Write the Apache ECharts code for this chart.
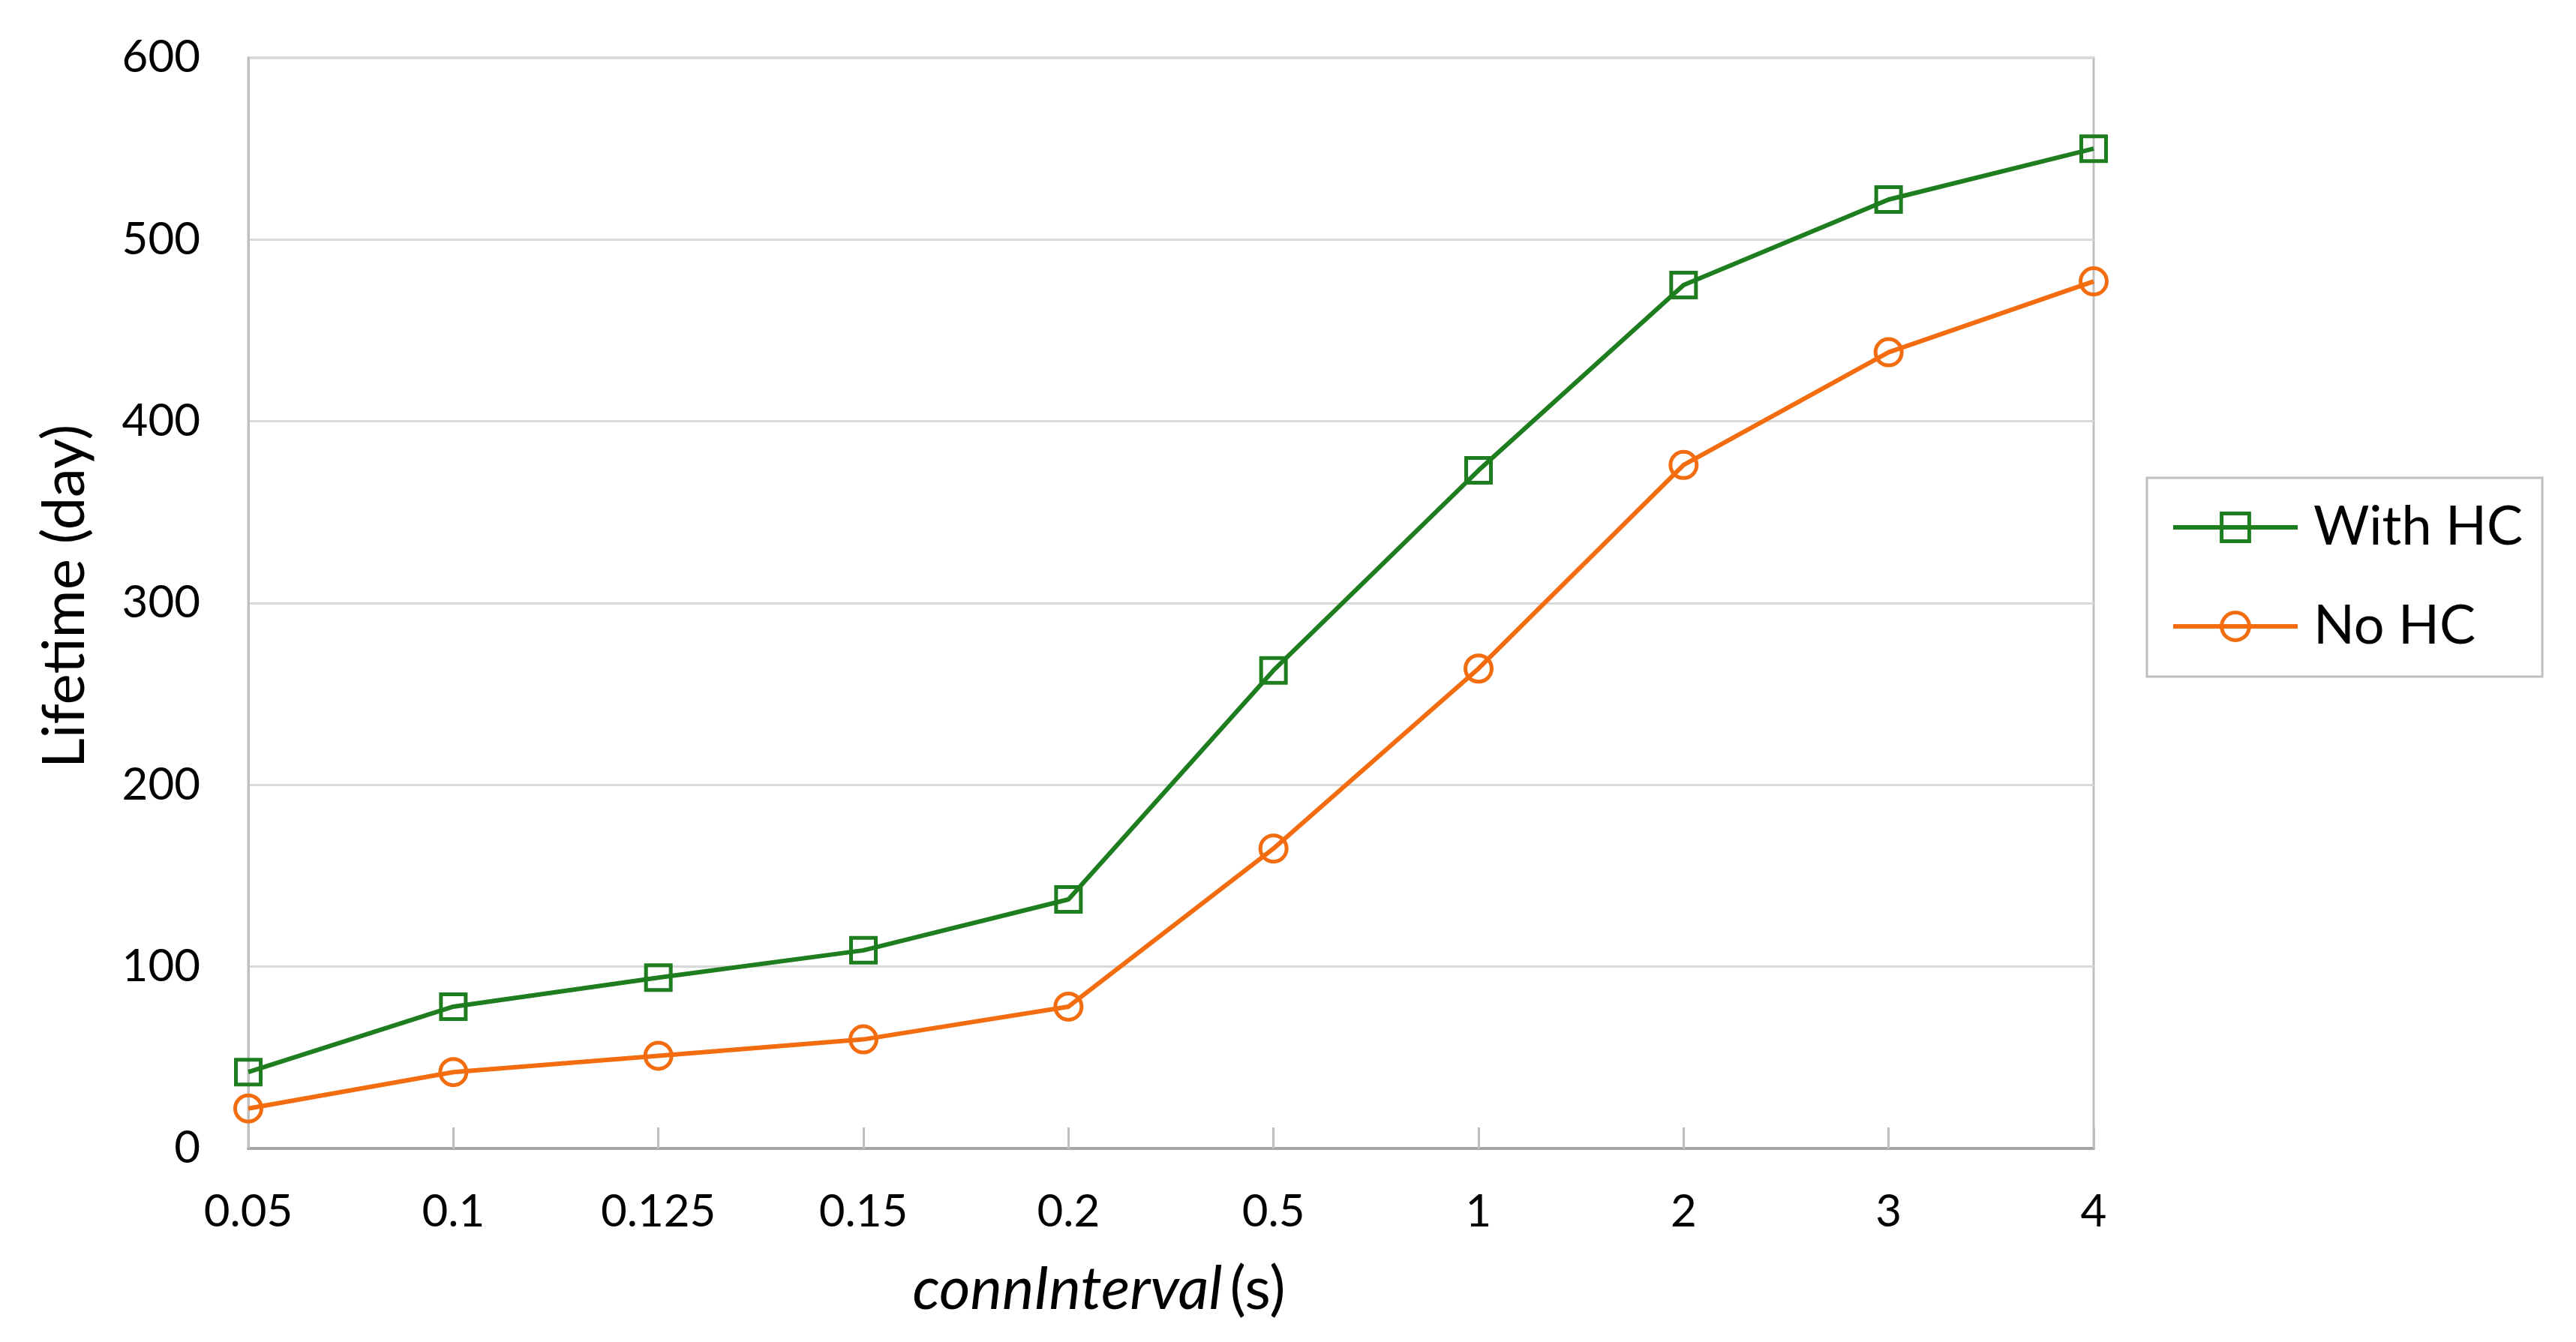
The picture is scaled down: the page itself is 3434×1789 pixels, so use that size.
<!DOCTYPE html>
<html>
<head>
<meta charset="utf-8">
<script src="https://cdn.jsdelivr.net/npm/echarts@6/dist/echarts.min.js"></script>
<style>html,body{margin:0;padding:0;background:#fff;}#c{width:3434px;height:1789px;}</style>
</head>
<body>
<div id="c"></div>
<script>
const categories = ['0.05', '0.1', '0.125', '0.15', '0.2', '0.5', '1', '2', '3', '4'];
const withHC = [42, 78, 94, 109, 137, 263, 373, 475, 522, 550];
const noHC = [22, 42, 51, 60, 78, 165, 264, 376, 438, 477];
const yTicks = { min: 0, max: 600, interval: 100 };

const FONT = 'Lato';
const GREEN = '#1e7d1e';
const ORANGE = '#f36d10';

const chart = echarts.init(document.getElementById('c'), null, { renderer: 'canvas' });
chart.setOption({
  backgroundColor: '#ffffff',
  animation: false,
  textStyle: { fontFamily: FONT, color: '#000' },
  grid: {
    left: 331, right: 643, top: 77, bottom: 258,
    show: true, borderColor: '#bfbfbf', borderWidth: 3, backgroundColor: 'transparent'
  },
  legend: {
    orient: 'vertical',
    left: 2862, top: 637,
    padding: [29, 26, 30, 32],
    itemGap: 58,
    itemWidth: 166, itemHeight: 46,
    borderColor: '#bfbfbf', borderWidth: 3,
    lineStyle: { width: 6 },
    itemStyle: { borderWidth: 5 },
    textStyle: { fontFamily: FONT, fontSize: 72, color: '#000', padding: [0, 0, 0, 16], lineHeight: 74 },
    data: ['With HC', 'No HC']
  },
  xAxis: {
    type: 'category',
    data: categories,
    boundaryGap: false,
    axisLine: { lineStyle: { color: '#a6a6a6', width: 4 } },
    axisTick: { show: true, inside: true, length: 28, alignWithLabel: true, lineStyle: { color: '#bfbfbf', width: 3 } },
    axisLabel: { fontFamily: FONT, fontSize: 60, color: '#000', margin: 55 },
    splitLine: { show: false },
    name: '{i|connInterval}{n|\u2009(s)}',
    nameLocation: 'middle',
    nameGap: 148,
    nameTextStyle: {
      fontFamily: FONT, fontSize: 80, color: '#000',
      padding: [0, 192, 0, 0],
      rich: {
        i: { fontFamily: FONT, fontSize: 80, fontStyle: 'italic', color: '#000' },
        n: { fontFamily: FONT, fontSize: 80, color: '#000' }
      }
    }
  },
  yAxis: {
    type: 'value',
    min: yTicks.min, max: yTicks.max, interval: yTicks.interval,
    axisLine: { show: true, lineStyle: { color: '#bfbfbf', width: 3 } },
    axisTick: { show: false },
    axisLabel: { fontFamily: FONT, fontSize: 60, color: '#000', margin: 64 },
    splitLine: { show: true, lineStyle: { color: '#d9d9d9', width: 3 } },
    name: 'Lifetime (day)',
    nameLocation: 'middle',
    nameGap: 205,
    nameTextStyle: { fontFamily: FONT, fontSize: 78, color: '#000', padding: [0, 0, 0, 18] }
  },
  series: [
    {
      name: 'With HC',
      type: 'line',
      data: withHC,
      symbol: 'rect',
      symbolSize: 33,
      showAllSymbol: true,
      lineStyle: { color: GREEN, width: 6 },
      itemStyle: { color: 'rgba(255,255,255,0)', borderColor: GREEN, borderWidth: 5 },
      z: 3
    },
    {
      name: 'No HC',
      type: 'line',
      data: noHC,
      symbol: 'circle',
      symbolSize: 35,
      showAllSymbol: true,
      lineStyle: { color: ORANGE, width: 6 },
      itemStyle: { color: 'rgba(255,255,255,0)', borderColor: ORANGE, borderWidth: 5 },
      z: 2
    }
  ]
});
</script>
</body>
</html>
